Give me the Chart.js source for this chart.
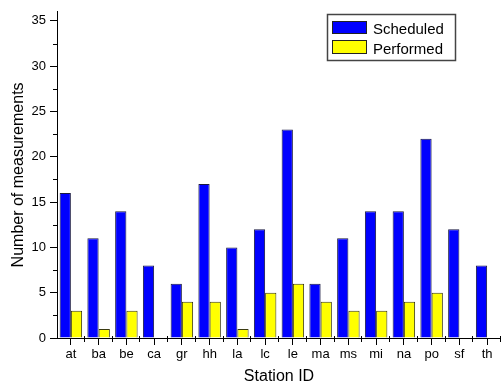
<!DOCTYPE html>
<html>
<head>
<meta charset="utf-8">
<script src="https://cdn.jsdelivr.net/npm/chart.js@4.4.1/dist/chart.umd.min.js"></script>
<style>
  html, body { margin: 0; padding: 0; background: #ffffff; }
  #wrap { width: 501px; height: 385px; position: relative; }
</style>
</head>
<body>
<div id="wrap"><canvas id="c" width="501" height="385"></canvas></div>
<script>
// Stations and measurement counts
const stations = ['at','ba','be','ca','gr','hh','la','lc','le','ma','ms','mi','na','po','sf','th'];
const scheduled = [16, 11, 14, 8, 6, 17, 10, 12, 23, 6, 11, 14, 14, 22, 12, 8];
const performed = [3, 1, 3, 0, 4, 4, 1, 5, 6, 4, 3, 3, 4, 5, 0, 0];
const yTicks = [0, 5, 10, 15, 20, 25, 30, 35];
const yMinorTicks = [2.5, 7.5, 12.5, 17.5, 22.5, 27.5, 32.5];

const FONT = "'Liberation Sans', Arial, sans-serif";

// Minor tick marks on both axes plus a framed legend in the upper right
const axisExtras = {
  id: 'axisExtras',
  afterDraw(chart) {
    const ctx = chart.ctx;
    const x = chart.scales.x, y = chart.scales.y;
    const area = chart.chartArea;
    ctx.save();
    ctx.strokeStyle = '#000';
    ctx.lineWidth = 1;
    ctx.beginPath();
    yMinorTicks.forEach(v => {
      const py = Math.round(y.getPixelForValue(v)) + 0.5;
      ctx.moveTo(area.left - 4, py);
      ctx.lineTo(area.left, py);
    });
    for (let i = 1; i <= stations.length; i++) {
      const px = Math.round(x.getPixelForValue(i - 0.5)) - 0.5;
      ctx.moveTo(px, area.bottom - 2);
      ctx.lineTo(px, area.bottom + 4);
    }
    ctx.stroke();

    // legend
    const bx = 327, by = 14, bw = 128, bh = 46;
    ctx.fillStyle = '#ffffff';
    ctx.fillRect(bx, by, bw, bh);
    ctx.strokeStyle = '#444';
    ctx.lineWidth = 1.5;
    ctx.strokeRect(bx + 0.5, by + 0.5, bw, bh);
    const rows = [{ top: 21, h: 13, base: 34 }, { top: 40, h: 14, base: 54 }];
    chart.data.datasets.forEach((ds, i) => {
      const r = rows[i];
      ctx.fillStyle = ds.backgroundColor;
      ctx.fillRect(332, r.top, 35, r.h);
      ctx.strokeStyle = '#222';
      ctx.lineWidth = 1;
      ctx.strokeRect(332.5, r.top + 0.5, 34, r.h - 1);
      ctx.fillStyle = '#000';
      ctx.font = '15px ' + FONT;
      ctx.textAlign = 'left';
      ctx.textBaseline = 'alphabetic';
      ctx.fillText(ds.label, 373, r.base);
    });
    ctx.restore();
  }
};

new Chart(document.getElementById('c'), {
  type: 'bar',
  data: {
    labels: stations,
    datasets: [
      { label: 'Scheduled', data: scheduled, backgroundColor: '#0000ff', borderColor: '#1a1a40', borderWidth: 1 },
      { label: 'Performed', data: performed, backgroundColor: '#ffff00', borderColor: '#3a3a10', borderWidth: 1 }
    ]
  },
  options: {
    responsive: false,
    animation: false,
    devicePixelRatio: 1,
    layout: { padding: { top: 10, right: 0, left: 0, bottom: 0 } },
    datasets: { bar: { categoryPercentage: 0.81, barPercentage: 1.0 } },
    plugins: { legend: { display: false }, tooltip: { enabled: false } },
    scales: {
      x: {
        offset: true,
        afterFit(s) { s.height = 47; },
        grid: { display: true, offset: false, drawOnChartArea: false, drawTicks: true, tickLength: 7, color: '#000', lineWidth: 1 },
        border: { display: true, color: '#000', width: 1 },
        ticks: { color: '#000', font: { family: FONT, size: 13 }, padding: 2, maxRotation: 0, autoSkip: false },
        title: { display: true, text: 'Station ID', color: '#000', font: { family: FONT, size: 16, lineHeight: 1 }, padding: { top: 0, bottom: 0 } }
      },
      y: {
        min: 0,
        max: 36,
        afterFit(s) { s.width = 57; },
        afterBuildTicks(s) { s.ticks = yTicks.map(v => ({ value: v })); },
        grid: { display: true, drawOnChartArea: false, drawTicks: true, tickLength: 7, color: '#000', lineWidth: 1 },
        border: { display: true, color: '#000', width: 1 },
        ticks: { color: '#000', font: { family: FONT, size: 13 }, padding: 4 },
        title: { display: true, text: 'Number of measurements', color: '#000', font: { family: FONT, size: 16, lineHeight: 1 }, padding: { top: 11, bottom: 0 } }
      }
    }
  },
  plugins: [axisExtras]
});
</script>
</body>
</html>
